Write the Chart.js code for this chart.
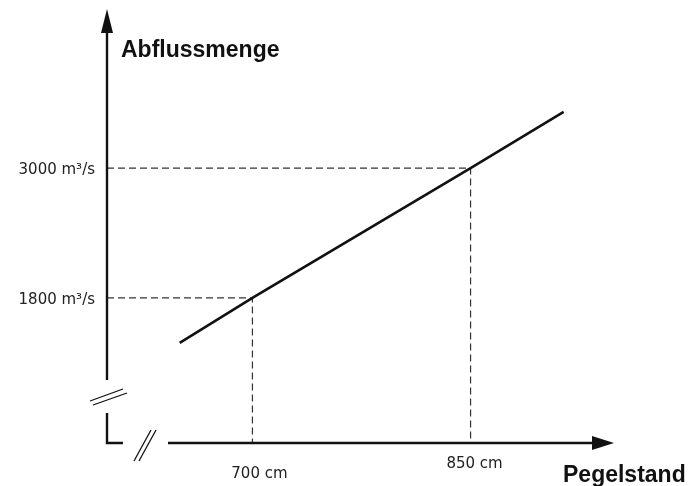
<!DOCTYPE html>
<html>
<head>
<meta charset="utf-8">
<title>Pegelstand / Abflussmenge</title>
<script src="https://cdn.jsdelivr.net/npm/chart.js@4.4.0/dist/chart.umd.min.js"></script>
<style>
  html, body { margin: 0; padding: 0; background: #fff; }
  #wrap { width: 689px; height: 486px; }
</style>
</head>
<body>
<div id="wrap"><canvas id="rating-chart" width="689" height="486"></canvas></div>
<script>
// data (Pegelstand in cm, Abflussmenge in m3/s)
var pegel = [650, 700, 850, 914];
var abfluss = [1385, 1800, 3000, 3518];

// the two read-off points with dashed guides
var markPegel = [700, 850];
var markAbfluss = [1800, 3000];

// tick labels
var xTickLabels = ['700 cm', '850 cm'];
var yTickLabels = ['1800 m\u00b3/s', '3000 m\u00b3/s'];

// axis ranges (origin is where the axes meet)
var xMin = 600, xMax = 950;
var yMin = 460, yMax = 4460;

var ink = '#111';
var guideColor = '#333';

var lineData = pegel.map(function (p, i) {
    return { x: p, y: abfluss[i] };
});

var guideSets = markPegel.map(function (p, i) {
    return {
        label: 'guide ' + i,
        data: [{ x: xMin, y: markAbfluss[i] }, { x: p, y: markAbfluss[i] }, { x: p, y: yMin }],
        showLine: true,
        borderColor: guideColor,
        borderWidth: 1.2,
        borderDash: [7, 4],
        pointRadius: 0,
        clip: false
    };
});

// axes with arrows, break marks and labels
var axesPlugin = {
    id: 'axesPlugin',
    afterDatasetsDraw: function (chart) {
        var ctx = chart.ctx;
        var area = chart.chartArea;
        var xs = chart.scales.x, ys = chart.scales.y;
        var ox = area.left, oy = area.bottom;

        ctx.save();
        ctx.strokeStyle = ink;
        ctx.fillStyle = ink;
        ctx.lineWidth = 2.4;
        ctx.lineCap = 'butt';

        // y axis, upper part
        ctx.beginPath();
        ctx.moveTo(ox, area.top + 20);
        ctx.lineTo(ox, oy - 63);
        ctx.stroke();
        // y axis, lower part + stub of x axis
        ctx.beginPath();
        ctx.moveTo(ox, oy - 30);
        ctx.lineTo(ox, oy);
        ctx.lineTo(ox + 16, oy);
        ctx.stroke();
        // x axis
        ctx.beginPath();
        ctx.moveTo(ox + 61, oy);
        ctx.lineTo(area.right - 20, oy);
        ctx.stroke();

        // arrow heads
        ctx.beginPath();
        ctx.moveTo(ox, area.top - 1);
        ctx.lineTo(ox - 6, area.top + 23);
        ctx.lineTo(ox + 6, area.top + 23);
        ctx.closePath();
        ctx.fill();
        ctx.beginPath();
        ctx.moveTo(area.right - 2, oy);
        ctx.lineTo(area.right - 24, oy - 7);
        ctx.lineTo(area.right - 24, oy + 7);
        ctx.closePath();
        ctx.fill();

        // break marks
        ctx.lineWidth = 1.3;
        ctx.beginPath();
        ctx.moveTo(ox - 17, oy - 42); ctx.lineTo(ox + 16, oy - 54);
        ctx.moveTo(ox - 14, oy - 38); ctx.lineTo(ox + 20, oy - 50);
        ctx.moveTo(ox + 27, oy + 18); ctx.lineTo(ox + 44, oy - 13);
        ctx.moveTo(ox + 32, oy + 18); ctx.lineTo(ox + 49, oy - 13);
        ctx.stroke();

        // tick labels
        ctx.fillStyle = '#222';
        ctx.font = '15px "DejaVu Sans", sans-serif';
        ctx.textBaseline = 'middle';
        ctx.textAlign = 'right';
        markAbfluss.forEach(function (v, i) {
            ctx.fillText(yTickLabels[i], ox - 12, ys.getPixelForValue(v) + 2);
        });
        ctx.textAlign = 'center';
        var xLabelShift = [[7, 31], [4, 21]];
        markPegel.forEach(function (v, i) {
            ctx.fillText(xTickLabels[i], xs.getPixelForValue(v) + xLabelShift[i][0], oy + xLabelShift[i][1]);
        });

        // axis titles
        ctx.fillStyle = ink;
        ctx.font = 'bold 23px "Liberation Sans", Arial, sans-serif';
        ctx.textAlign = 'left';
        ctx.textBaseline = 'alphabetic';
        ctx.fillText('Abflussmenge', ox + 14, area.top + 47);
        ctx.fillText('Pegelstand', 563, oy + 39);
        ctx.restore();
    }
};

var ctx = document.getElementById('rating-chart').getContext('2d');
var ratingChart = new Chart(ctx, {
    type: 'scatter',
    data: {
        datasets: [{
            label: 'Abflusskurve',
            data: lineData,
            showLine: true,
            borderColor: ink,
            borderWidth: 2.6,
            pointRadius: 0,
            clip: false
        }].concat(guideSets)
    },
    options: {
        responsive: false,
        animation: false,
        layout: { padding: { left: 107, right: 73, top: 10, bottom: 43 } },
        plugins: {
            legend: { display: false },
            tooltip: { enabled: false }
        },
        scales: {
            x: { type: 'linear', min: xMin, max: xMax, display: false },
            y: { type: 'linear', min: yMin, max: yMax, display: false }
        }
    },
    plugins: [axesPlugin]
});
</script>
</body>
</html>
